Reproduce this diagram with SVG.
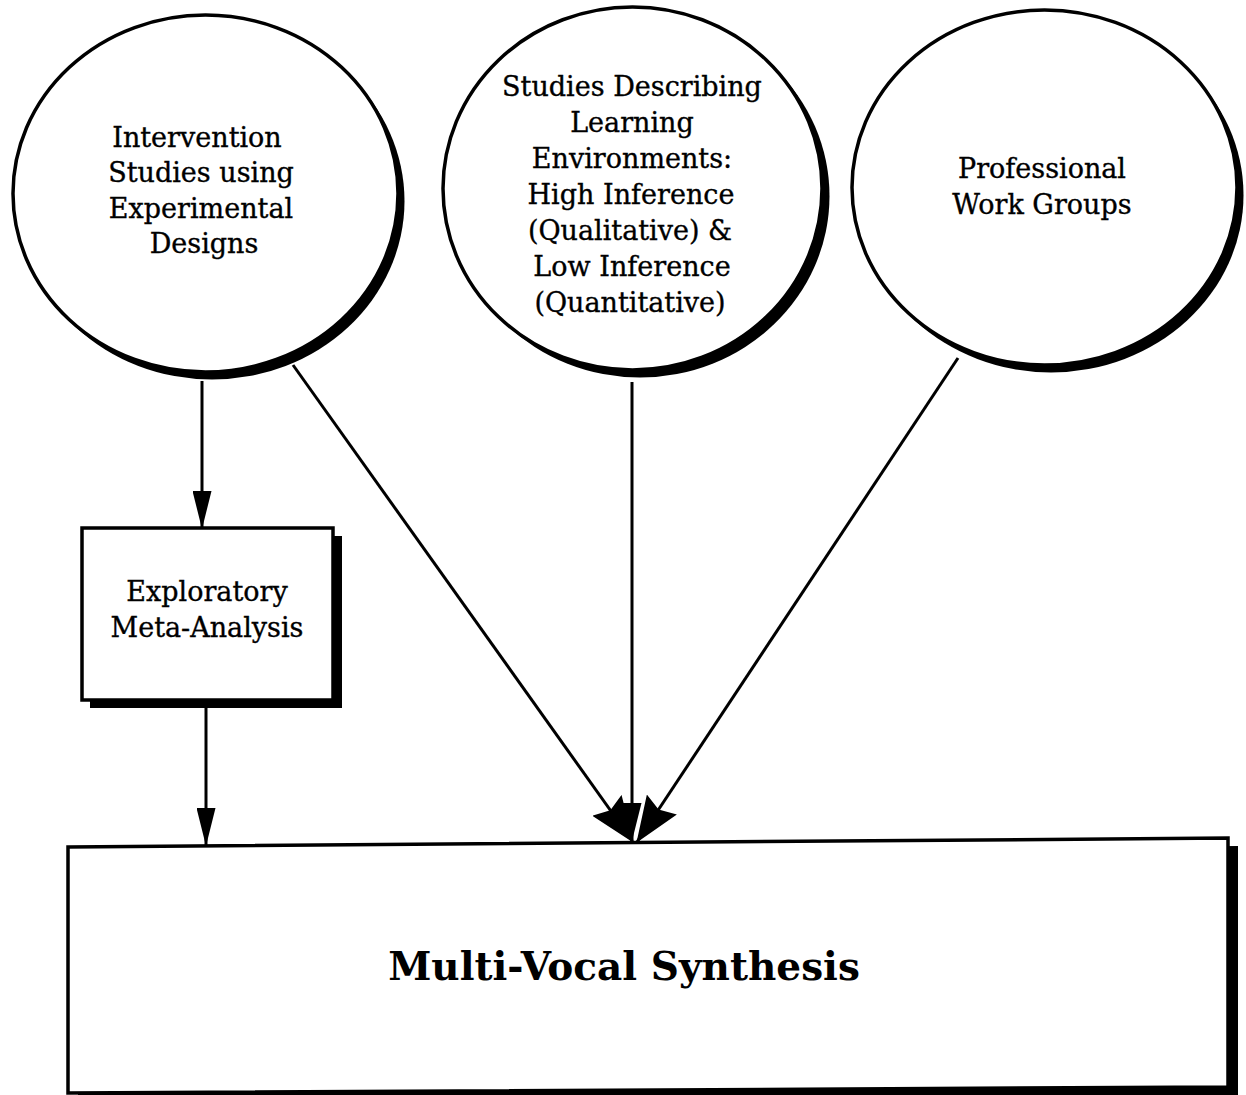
<svg xmlns="http://www.w3.org/2000/svg" width="1246" height="1095" viewBox="0 0 1246 1095">
  <style>
    .lbl { font-family: "DejaVu Serif", "Liberation Serif", serif; font-size: 27px; fill: #000; stroke: #000; stroke-width: 0.35; text-anchor: middle; }
    .big { font-family: "DejaVu Serif", "Liberation Serif", serif; font-size: 39px; font-weight: bold; fill: #000; text-anchor: middle; }
    .outline { fill: #fff; stroke: #000; stroke-width: 3.5; }
    .shadow { fill: #000; stroke: none; }
    .conn { stroke: #000; stroke-width: 3; fill: none; }
  </style>
  <defs>
    <marker id="headSmall" markerUnits="userSpaceOnUse" viewBox="0 0 38 19" markerWidth="38" markerHeight="19" refX="37" refY="9.5" orient="auto">
      <path d="M0,0 L38,9.5 L0,19 z" fill="#000"/>
    </marker>
    <marker id="headBig" markerUnits="userSpaceOnUse" viewBox="0 0 46 36" markerWidth="46" markerHeight="36" refX="45" refY="18" orient="auto">
      <path d="M0,0 L46,18 L0,36 L6,18 z" fill="#000"/>
    </marker>
  </defs>
  <rect width="1246" height="1095" fill="#fff"/>

  <g id="node-intervention">
    <ellipse class="shadow" cx="212" cy="201" rx="192.5" ry="178.5"/>
    <ellipse class="outline" cx="205.5" cy="193.5" rx="192.5" ry="178.5"/>
    <text class="lbl" x="197" y="147">Intervention</text>
    <text class="lbl" x="201" y="182">Studies using</text>
    <text class="lbl" x="201" y="218">Experimental</text>
    <text class="lbl" x="204" y="253">Designs</text>
  </g>

  <g id="node-learning-environments">
    <ellipse class="shadow" cx="640" cy="196" rx="189.5" ry="181.5"/>
    <ellipse class="outline" cx="632.5" cy="188.5" rx="189.5" ry="181.5"/>
    <text class="lbl" x="632" y="96">Studies Describing</text>
    <text class="lbl" x="632" y="132">Learning</text>
    <text class="lbl" x="632" y="168">Environments:</text>
    <text class="lbl" x="631" y="204">High Inference</text>
    <text class="lbl" x="630" y="240">(Qualitative) &amp;</text>
    <text class="lbl" x="632" y="276">Low Inference</text>
    <text class="lbl" x="630" y="312">(Quantitative)</text>
  </g>

  <g id="node-professional">
    <ellipse class="shadow" cx="1051" cy="195" rx="192.5" ry="177.5"/>
    <ellipse class="outline" cx="1044.5" cy="187.5" rx="192.5" ry="177.5"/>
    <text class="lbl" x="1042" y="178">Professional</text>
    <text class="lbl" x="1042" y="214">Work Groups</text>
  </g>

  <g id="node-meta-analysis">
    <rect class="shadow" x="90" y="536" width="252" height="172"/>
    <rect class="outline" x="82" y="528" width="251" height="172"/>
    <text class="lbl" x="207" y="601">Exploratory</text>
    <text class="lbl" x="207" y="637">Meta-Analysis</text>
  </g>

  <g id="node-synthesis">
    <polygon class="shadow" points="78,855 1238,846 1238,1095 78,1095"/>
    <polygon class="outline" points="68,847 1228,838 1228,1087 68,1093"/>
    <text class="big" x="624" y="980">Multi-Vocal Synthesis</text>
  </g>

  <g id="connectors">
    <line class="conn" x1="202" y1="381" x2="202" y2="528" marker-end="url(#headSmall)"/>
    <line class="conn" x1="206" y1="708" x2="206" y2="845" marker-end="url(#headSmall)"/>
    <line class="conn" x1="632" y1="382" x2="632" y2="840" marker-end="url(#headSmall)"/>
    <line class="conn" x1="293" y1="365" x2="633" y2="842" marker-end="url(#headBig)"/>
    <line class="conn" x1="958" y1="358" x2="637" y2="842" marker-end="url(#headBig)"/>
  </g>
</svg>
